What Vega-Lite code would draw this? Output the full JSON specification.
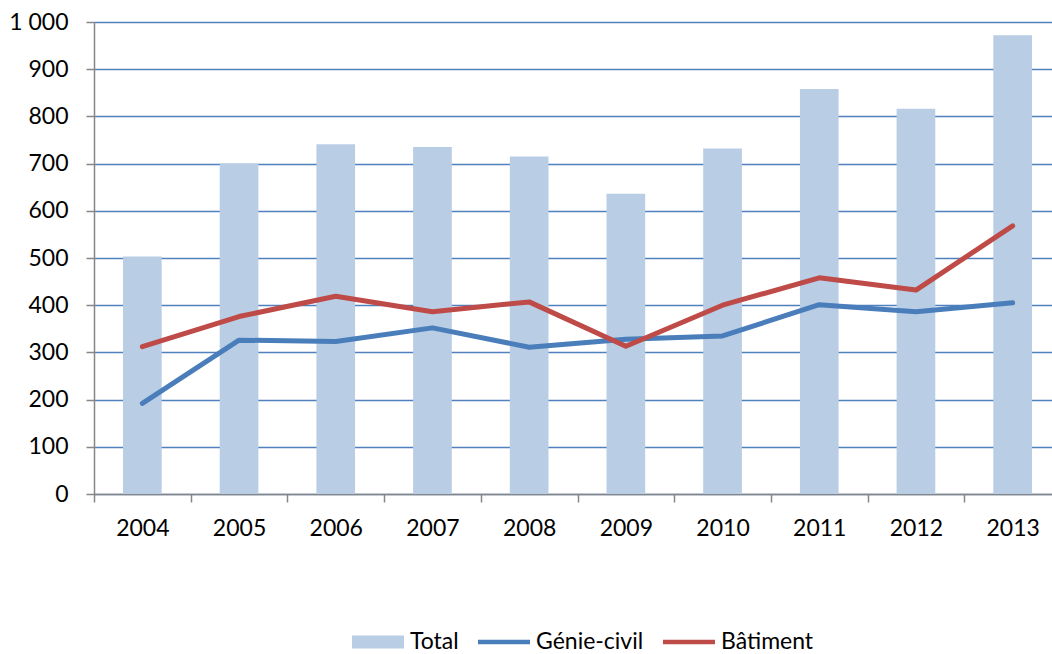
{
  "$schema": "https://vega.github.io/schema/vega-lite/v6.json",
  "autosize": {"type": "none"},
  "padding": {"left": 94, "top": 22, "right": 0, "bottom": 160},
  "width": 958,
  "height": 472,
  "background": "white",
  "data": {
    "values": [
      {"year": "2004", "series": "Total", "value": 503},
      {"year": "2005", "series": "Total", "value": 700},
      {"year": "2006", "series": "Total", "value": 741},
      {"year": "2007", "series": "Total", "value": 735},
      {"year": "2008", "series": "Total", "value": 715},
      {"year": "2009", "series": "Total", "value": 636},
      {"year": "2010", "series": "Total", "value": 732},
      {"year": "2011", "series": "Total", "value": 858},
      {"year": "2012", "series": "Total", "value": 816},
      {"year": "2013", "series": "Total", "value": 972},
      {"year": "2004", "series": "Génie-civil", "value": 192},
      {"year": "2005", "series": "Génie-civil", "value": 326},
      {"year": "2006", "series": "Génie-civil", "value": 323},
      {"year": "2007", "series": "Génie-civil", "value": 352},
      {"year": "2008", "series": "Génie-civil", "value": 311},
      {"year": "2009", "series": "Génie-civil", "value": 328},
      {"year": "2010", "series": "Génie-civil", "value": 335},
      {"year": "2011", "series": "Génie-civil", "value": 401},
      {"year": "2012", "series": "Génie-civil", "value": 386},
      {"year": "2013", "series": "Génie-civil", "value": 405},
      {"year": "2004", "series": "Bâtiment", "value": 312},
      {"year": "2005", "series": "Bâtiment", "value": 376},
      {"year": "2006", "series": "Bâtiment", "value": 419},
      {"year": "2007", "series": "Bâtiment", "value": 386},
      {"year": "2008", "series": "Bâtiment", "value": 407},
      {"year": "2009", "series": "Bâtiment", "value": 313},
      {"year": "2010", "series": "Bâtiment", "value": 400},
      {"year": "2011", "series": "Bâtiment", "value": 458},
      {"year": "2012", "series": "Bâtiment", "value": 432},
      {"year": "2013", "series": "Bâtiment", "value": 568}
    ]
  },
  "encoding": {
    "x": {
      "field": "year",
      "type": "ordinal",
      "title": null,
      "scale": {"type": "band", "range": [0, 967], "paddingInner": 0.6, "paddingOuter": 0.3},
      "axis": {
        "tickOffset": -48.35,
        "labelOffset": 48.35,
        "labelAngle": 0,
        "labelFont": "Lato",
        "labelFontSize": 23,
        "labelColor": "#000000",
        "labelPadding": 15,
        "tickSize": 8,
        "tickColor": "#868686",
        "tickWidth": 1.5,
        "domainColor": "#868686",
        "domainWidth": 1.5,
        "grid": false
      }
    },
    "y": {
      "field": "value",
      "type": "quantitative",
      "title": null,
      "scale": {"domain": [0, 1000], "nice": false, "zero": true},
      "axis": {
        "values": [0, 100, 200, 300, 400, 500, 600, 700, 800, 900, 1000],
        "labelExpr": "datum.value >= 1000 ? '1 000' : datum.label",
        "labelFont": "Lato",
        "labelFontSize": 23,
        "labelColor": "#000000",
        "labelPadding": 18,
        "tickSize": 8,
        "tickColor": "#868686",
        "tickWidth": 1.5,
        "domainColor": "#868686",
        "domainWidth": 1.5,
        "grid": true,
        "gridColor": "#4f81bd",
        "gridWidth": 1.5
      }
    },
    "color": {
      "field": "series",
      "type": "nominal",
      "scale": {
        "domain": ["Total", "Génie-civil", "Bâtiment"],
        "range": ["#b9cde5", "#4a7ebb", "#be4b48"]
      },
      "legend": {
        "title": null,
        "orient": "none",
        "direction": "horizontal",
        "legendX": 258,
        "legendY": 594,
        "padding": 0,
        "labelFont": "Lato",
        "labelFontSize": 23,
        "labelColor": "#000000",
        "labelOffset": 6,
        "columnPadding": 19,
        "symbolSize": 2704,
        "symbolStrokeWidth": 0,
        "encode": {
          "symbols": {
            "update": {
              "shape": {"signal": "datum.value === 'Total' ? 'M-1,-0.25H1V0.25H-1Z' : 'M-1,-0.09H1V0.09H-1Z'"},
              "fill": {"signal": "scale('color', datum.value)"},
              "stroke": {"value": "transparent"},
              "strokeWidth": {"value": 0},
              "opacity": {"value": 1},
              "fillOpacity": {"value": 1}
            }
          }
        }
      }
    }
  },
  "layer": [
    {
      "transform": [{"filter": "datum.series === 'Total'"}],
      "mark": {"type": "bar", "opacity": 1}
    },
    {
      "transform": [{"filter": "datum.series !== 'Total'"}],
      "mark": {"type": "line", "strokeWidth": 5, "strokeCap": "round", "strokeJoin": "round"}
    }
  ],
  "config": {
    "view": {"stroke": null},
    "font": "Lato"
  }
}
